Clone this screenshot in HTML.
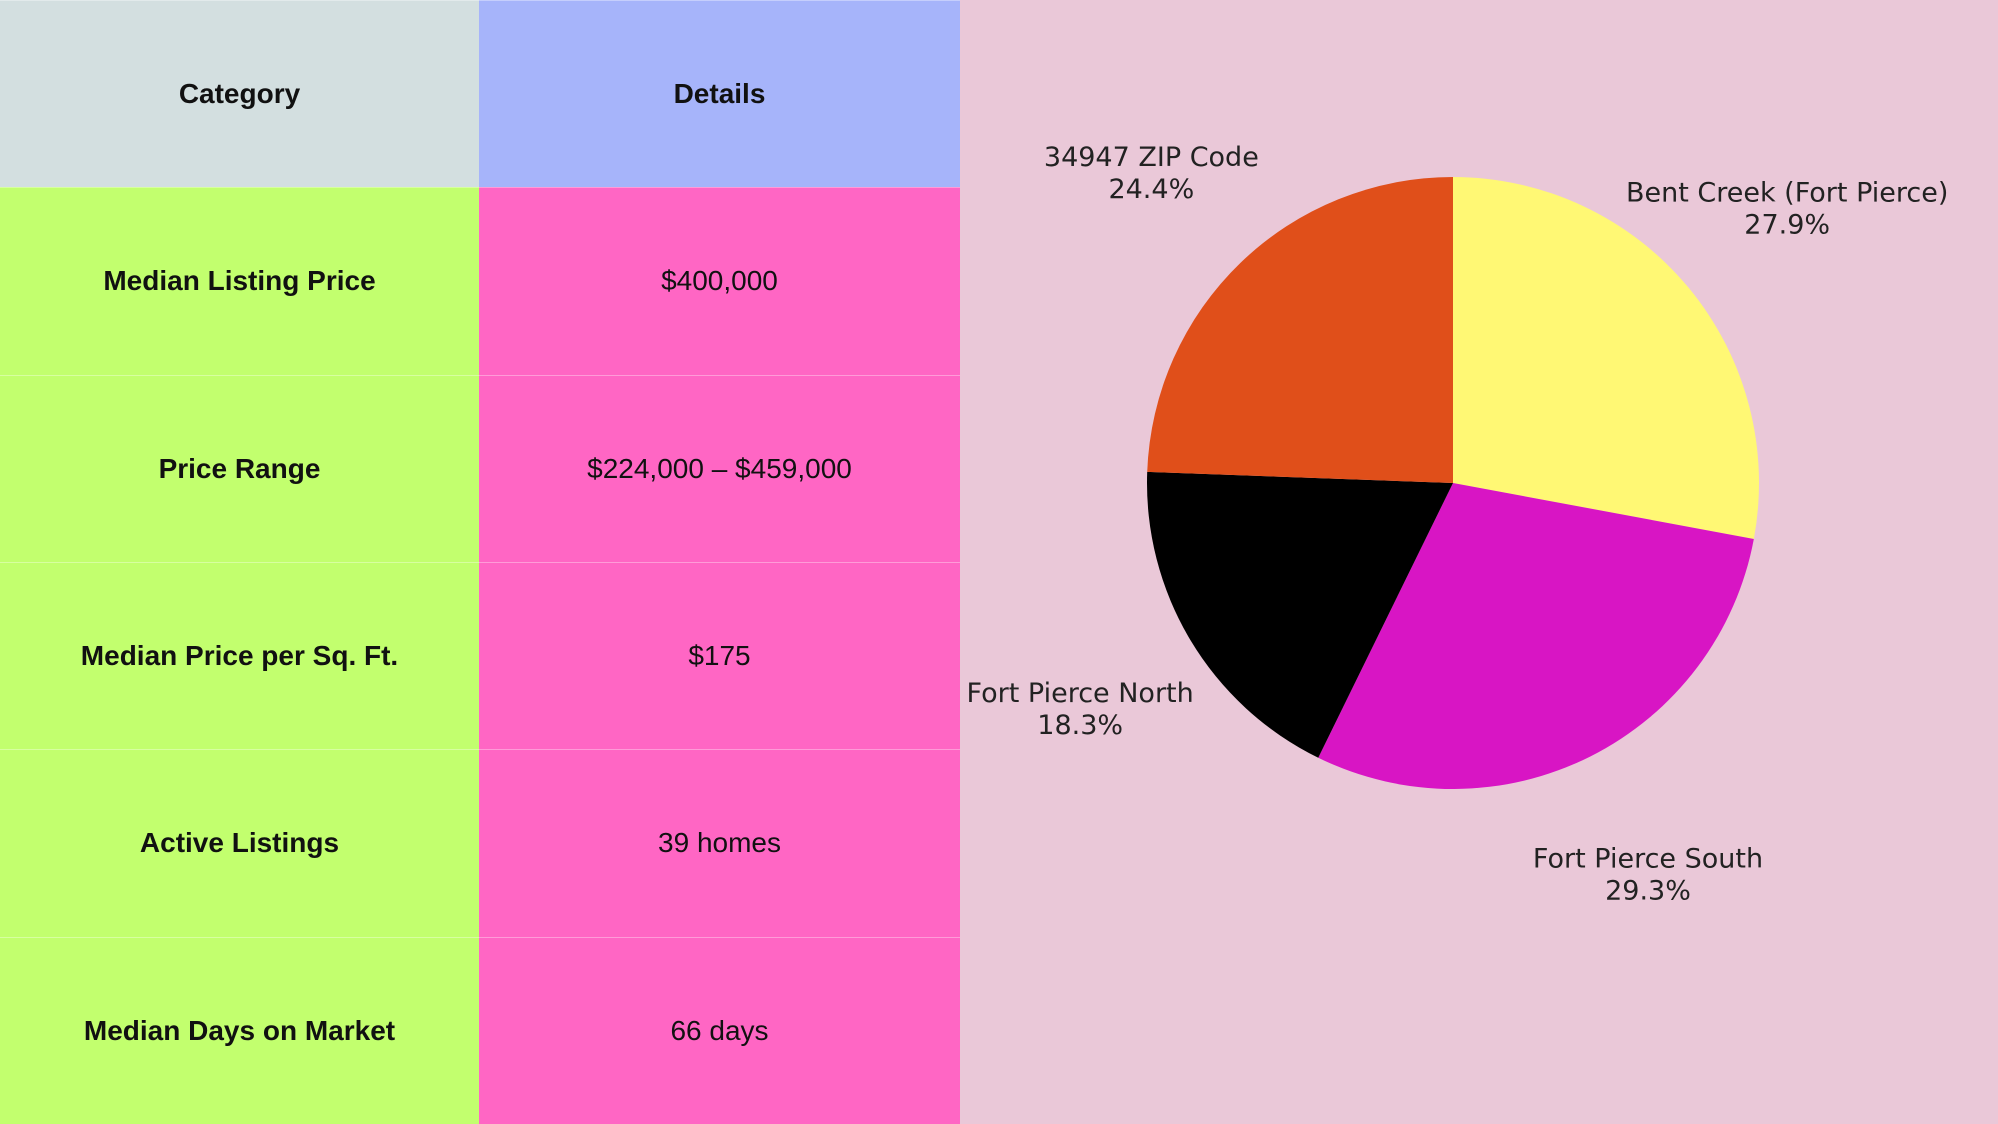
<!DOCTYPE html>
<html><head><meta charset="utf-8"><style>
html,body{margin:0;padding:0}
body{width:1998px;height:1124px;background:#eac8d8;position:relative;overflow:hidden;font-family:"Liberation Sans",sans-serif}
.c{position:absolute;display:flex;align-items:center;justify-content:center;font-size:28px;color:#111;box-sizing:border-box;text-align:center}
.b{font-weight:bold}
</style></head><body>
<div id="tbl"></div>
<svg id="pie" width="1998" height="1124" style="position:absolute;left:0;top:0"></svg>
<script>
const categories=["Median Listing Price","Price Range","Median Price per Sq. Ft.","Active Listings","Median Days on Market"];
const details=["$400,000","$224,000 – $459,000","$175","39 homes","66 days"];
const sliceLabels=["Bent Creek (Fort Pierce)","Fort Pierce South","Fort Pierce North","34947 ZIP Code"];
const sliceValues=[27.9,29.3,18.3,24.4];
const sliceColors=["#fff874","#d815c4","#000000","#e04f1a"];
const tbl=document.getElementById('tbl');
const W1=479,W2=481,H=187.33;
function cell(x,y,w,h,bg,txt,bold,name){
  const d=document.createElement('div');
  d.className='c'+(bold?' b':'');
  d.style.cssText=`left:${x}px;top:${y}px;width:${w}px;height:${h}px;background:${bg};border-top:1px solid rgba(255,255,255,0.35)`;
  d.textContent=txt;
  
  
  tbl.appendChild(d);
}
cell(0,0,W1,H,'#d3dfe0','Category',true,'header-category');
cell(W1,0,W2,H,'#a6b4fa','Details',true,'header-details');
categories.forEach((c,i)=>{
  cell(0,H*(i+1),W1,H,'#c2ff6e',c,true,'category-cell');
  cell(W1,H*(i+1),W2,H,'#ff66c4',details[i],false,'details-cell');
});
const svg=document.getElementById('pie');
const NS='http://www.w3.org/2000/svg';
const cx=1453,cy=483,r=306;
const total=sliceValues.reduce((a,b)=>a+b,0);
let a0=0;
function pt(a,rr){return [cx+rr*Math.sin(a),cy-rr*Math.cos(a)];}
sliceValues.forEach((v,i)=>{
  const a1=a0+v/total*2*Math.PI;
  const p0=pt(a0,r),p1=pt(a1,r);
  const p=document.createElementNS(NS,'path');
  p.setAttribute('d',`M${cx},${cy}L${p0[0]},${p0[1]}A${r},${r} 0 ${a1-a0>Math.PI?1:0} 1 ${p1[0]},${p1[1]}Z`);
  p.setAttribute('fill',sliceColors[i]);
  
  
  svg.appendChild(p);
  const m=(a0+a1)/2;
  const lp=pt(m,r*1.42);
  const t=document.createElementNS(NS,'text');
  t.setAttribute('x',lp[0]);t.setAttribute('y',lp[1]-4);
  t.setAttribute('text-anchor','middle');
  t.setAttribute('font-family','DejaVu Sans, sans-serif');
  t.setAttribute('font-size','27');t.setAttribute('fill','#222');
  
  
  const s1=document.createElementNS(NS,'tspan');s1.setAttribute('x',lp[0]);s1.textContent=sliceLabels[i];
  const s2=document.createElementNS(NS,'tspan');s2.setAttribute('x',lp[0]);s2.setAttribute('dy','32');s2.textContent=v.toFixed(1)+'%';
  t.appendChild(s1);t.appendChild(s2);svg.appendChild(t);
  a0=a1;
});
</script>
</body></html>
